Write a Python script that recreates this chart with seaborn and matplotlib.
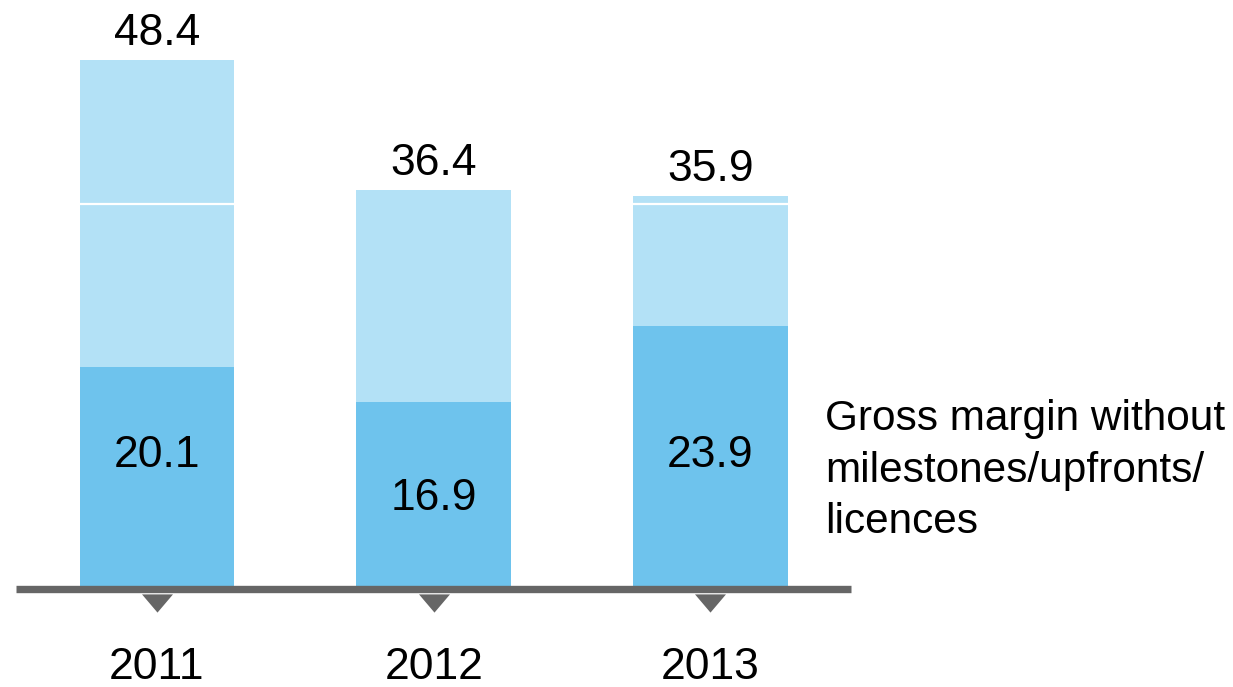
import matplotlib
matplotlib.use("Agg")
import matplotlib.pyplot as plt
import seaborn as sns
import pandas as pd

sns.set_theme(style="white")
plt.rcParams["font.family"] = ["Liberation Sans", "DejaVu Sans"]

# Gross margin components per year
years = ["2011", "2012", "2013"]
gross_margin_core = [20.1, 16.9, 23.9]      # without milestones/upfronts/licences
other_margin_a = [15.0, 19.5, 11.2]
other_margin_b = [13.3, 0.0, 0.8]
totals = [48.4, 36.4, 35.9]

legend_text = "Gross margin without\nmilestones/upfronts/\nlicences"

# layout
inner_label_y = [12.0, 8.0, 12.0]
dark_blue = "#6EC3ED"
light_blue = "#B3E1F6"
axis_grey = "#666666"
bar_w = 0.56

df = pd.DataFrame({
    "year": years,
    "core": gross_margin_core,
    "a": other_margin_a,
    "b": other_margin_b,
})
df["a_bottom"] = df["core"]
df["b_bottom"] = df["core"] + df["a"]

fig = plt.figure(figsize=(12.33, 6.87), dpi=100)
ax = fig.add_axes([0, 0, 1, 1])

sns.barplot(data=df, x="year", y="core", color=dark_blue, saturation=1,
            width=bar_w, linewidth=0, ax=ax)
sns.barplot(data=df, x="year", y="a", bottom=df["a_bottom"], color=light_blue,
            saturation=1, width=bar_w, linewidth=0, ax=ax)
sns.barplot(data=df, x="year", y="b", bottom=df["b_bottom"], color=light_blue,
            saturation=1, width=bar_w, linewidth=0, ax=ax)

# white separators between the light segments where a top segment exists
for i, (lo, hi) in enumerate(zip(df["b_bottom"], other_margin_b)):
    if hi > 0:
        ax.plot([i - bar_w / 2, i + bar_w / 2], [lo, lo], color="white",
                lw=1.6, solid_capstyle="butt", zorder=5)

# base line and flat downward year markers
ax.plot([-0.5095, 2.508], [-0.336, -0.336], color=axis_grey, lw=5.3,
        solid_capstyle="butt", zorder=6)
flat_tri = [(-0.85, 0.5), (0.85, 0.5), (0.0, -0.5), (-0.85, 0.5)]
ax.plot(range(len(years)), [-1.61] * len(years), linestyle="none",
        marker=flat_tri, markersize=22.3, color=axis_grey, markeredgewidth=0)

for i, y in enumerate(years):
    ax.text(i, -7.5, y, ha="center", va="center", fontsize=32, color="black")

for i, t in enumerate(totals):
    ax.text(i, t + 0.55, f"{t:.1f}", ha="center", va="bottom",
            fontsize=32, color="black")

for i, v in enumerate(gross_margin_core):
    ax.text(i, inner_label_y[i], f"{v:.1f}", ha="center", va="center",
            fontsize=32, color="black")

ax.text(2.415, 10.6, legend_text, ha="left", va="center", fontsize=30.5,
        color="black", linespacing=1.38)

ax.set_xlim(-0.5673, 3.888)
ax.set_ylim(-9.33, 53.93)
ax.axis("off")

fig.savefig("out.png", dpi=100, facecolor="white")
